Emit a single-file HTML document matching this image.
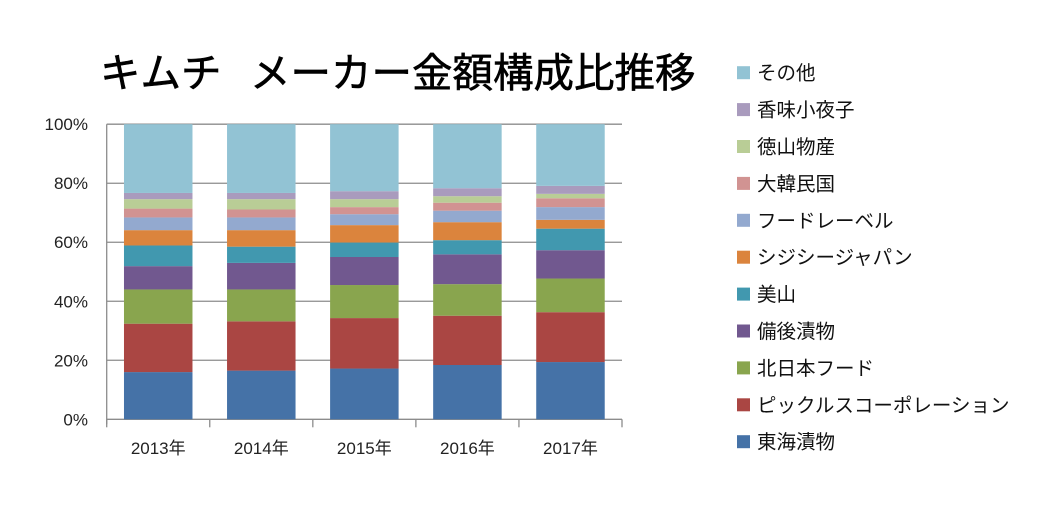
<!DOCTYPE html>
<html><head><meta charset="utf-8"><style>
body{margin:0;background:#fff;}
svg text{font-family:"Liberation Sans","Noto Sans CJK JP",sans-serif;}
</style></head><body>
<svg id="chart" width="1050" height="500" xmlns="http://www.w3.org/2000/svg">
<text x="100" y="87" font-size="40.5" fill="#000" stroke="#000" stroke-width="0.6"><tspan x="100">キムチ</tspan><tspan x="250">メーカー金額構成比推移</tspan></text>
<g id="grid"></g><g id="bars"></g><g id="axes"></g><g id="legend"></g>
</svg>
<script>
const categories=["2013年","2014年","2015年","2016年","2017年"];
const seriesNames=["東海漬物","ピックルスコーポレーション","北日本フード","備後漬物","美山","シジシージャパン","フードレーベル","大韓民国","徳山物産","香味小夜子","その他"];
const s0=[16.0,16.5,17.2,18.4,19.4];
const s1=[16.4,16.7,17.1,16.7,16.9];
const s2=[11.6,10.8,11.2,10.7,11.4];
const s3=[7.9,9.0,9.5,10.1,9.6];
const s4=[7.0,5.5,4.9,4.8,7.3];
const s5=[5.2,5.6,5.9,6.1,3.0];
const s6=[4.3,4.3,3.7,3.9,4.3];
const s7=[3.0,2.7,2.4,2.7,3.0];
const s8=[3.2,3.5,2.7,2.2,1.5];
const s9=[2.1,2.1,2.7,2.7,2.7];
const s10=[23.3,23.3,22.7,21.7,20.9];
const yTicks=["0%","20%","40%","60%","80%","100%"];
const series=[s0,s1,s2,s3,s4,s5,s6,s7,s8,s9,s10];
const colors=["#4572A7","#AA4643","#89A54E","#71588F","#4198AF","#DB843D","#93A9CF","#D19392","#B9CD96","#A99BBD","#92C3D4"];
const NS="http://www.w3.org/2000/svg";
const x0=106.7,x1=622,y0=419.3,y1=124.2;
const catW=(x1-x0)/categories.length, barW=68.5;
const yS=p=>y0-(p/100)*(y0-y1);
const xC=i=>x0+catW*(i+0.5);
function mk(t,a,parent){const e=document.createElementNS(NS,t);for(const k in a)e.setAttribute(k,a[k]);parent.appendChild(e);return e;}
const grid=document.getElementById('grid'),bars=document.getElementById('bars'),axes=document.getElementById('axes'),legend=document.getElementById('legend');
yTicks.forEach((t,i)=>{const v=i*20;const y=yS(v);
 const l=mk('line',{x1:x0,x2:x1,y1:y,y2:y,stroke:'#8c8c8c','stroke-width':1.3},grid);
 
 
 const tx=mk('text',{x:88,y:y+6,'text-anchor':'end','font-size':17,fill:'#222'},axes);tx.textContent=t;
 
 
});
mk('line',{x1:x0,x2:x0,y1:y1,y2:y0+5,stroke:'#8c8c8c','stroke-width':1.3},axes);
for(let i=0;i<=categories.length;i++){const x=x0+catW*i;mk('line',{x1:x,x2:x,y1:y0,y2:y0+8,stroke:'#8c8c8c','stroke-width':1.3},axes);}
categories.forEach((c,i)=>{let cum=0;
 series.forEach((s,k)=>{const v=s[i];const yt=yS(cum+v),yb=yS(cum);cum+=v;
  const r=mk('rect',{x:xC(i)-barW/2,y:yt,width:barW,height:yb-yt,fill:colors[k]},bars);
  
  
 });
 const t=mk('text',{x:xC(i),y:454,'text-anchor':'middle','font-size':17,fill:'#222'},axes);t.textContent=c;
 
 
});
for(let k=series.length-1;k>=0;k--){const row=series.length-1-k;const cy=72.7+row*36.9;
 const r=mk('rect',{x:737,y:cy-6.5,width:13,height:13,fill:colors[k]},legend);
 
 
 const t=mk('text',{x:757,y:cy+7,'font-size':19.5,fill:'#111'},legend);t.textContent=seriesNames[k];
 
 
}
</script>
</body></html>
